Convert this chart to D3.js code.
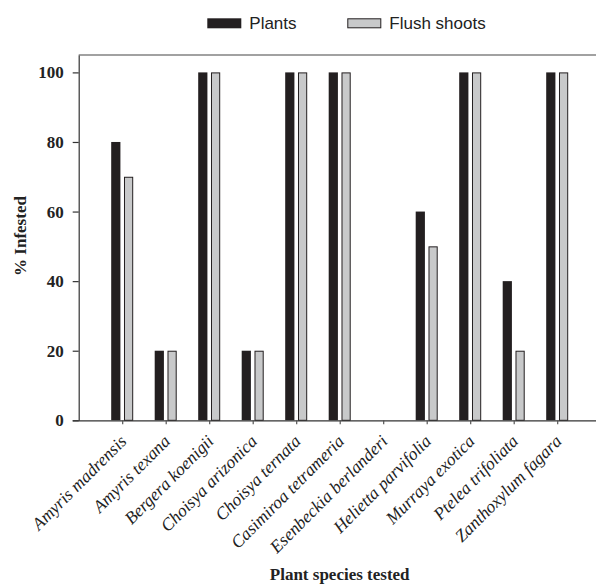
<!DOCTYPE html>
<html>
<head>
<meta charset="utf-8">
<script src="https://cdn.jsdelivr.net/npm/d3@7/dist/d3.min.js"></script>
<style>
  html, body { margin: 0; padding: 0; background: #fff; }
  svg { display: block; }
</style>
</head>
<body>
<svg id="chart" width="596" height="584"></svg>
<script>
const categories = ["Amyris madrensis", "Amyris texana", "Bergera koenigii", "Choisya arizonica",
  "Choisya ternata", "Casimiroa tetrameria", "Esenbeckia berlanderi", "Helietta parvifolia",
  "Murraya exotica", "Ptelea trifoliata", "Zanthoxylum fagara"];
const seriesNames = ["Plants", "Flush shoots"];
const plants = [80, 20, 100, 20, 100, 100, 0, 60, 100, 40, 100];
const flushShoots = [70, 20, 100, 20, 100, 100, 0, 50, 100, 20, 100];
const yTicks = [0, 20, 40, 60, 80, 100];

(function () {
const svg = d3.select("#chart");
const mLeft = 78.7, mRight = 600.7, mTop = 55, mBottom = 420.3;
const serif = "'Liberation Serif', 'Times New Roman', serif";
const sans = "'Liberation Sans', Arial, sans-serif";
const dark = "#231f20", grayFill = "#c8c9ca";

const x = d3.scalePoint().domain(categories).range([mLeft, mRight]).padding(1);
const y = d3.scaleLinear().domain([0, 105]).range([mBottom, mTop]);
const inner = d3.scaleBand().domain(seriesNames).range([-11, 11]).paddingInner(0.28);

const data = categories.map((c, i) => ({ cat: c, values: [plants[i], flushShoots[i]] }));

// frame top
svg.append("line").attr("x1", mLeft).attr("x2", 596).attr("y1", mTop).attr("y2", mTop)
  .attr("stroke", "#444").attr("stroke-width", 1.2);

// bars
const groups = svg.append("g").selectAll("g").data(data).join("g")
  .attr("transform", d => `translate(${x(d.cat)},0)`);
groups.selectAll("rect").data(d => d.values.map((v, j) => ({ v, s: seriesNames[j] })).filter(e => e.v > 0))
  .join("rect")
  .attr("x", d => inner(d.s) + (d.s === "Plants" ? 0 : 0.5))
  .attr("width", d => inner.bandwidth() - (d.s === "Plants" ? 0 : 1))
  .attr("y", d => y(d.v) + (d.s === "Plants" ? 0 : 0.5))
  .attr("height", d => mBottom - y(d.v) - (d.s === "Plants" ? 0 : 0.5))
  .attr("fill", d => d.s === "Plants" ? dark : grayFill)
  .attr("stroke", d => d.s === "Plants" ? "none" : dark)
  .attr("stroke-width", 1);

// y axis
const yAxis = svg.append("g").attr("transform", `translate(${mLeft},0)`)
  .call(d3.axisLeft(y).tickValues(yTicks).tickSize(6).tickPadding(9).tickSizeOuter(0));
yAxis.select(".domain").attr("stroke", "#333").attr("stroke-width", 1.2);
yAxis.selectAll(".tick line").attr("stroke", "#333").attr("stroke-width", 1.2);
yAxis.selectAll(".tick text").attr("font-family", serif).attr("font-weight", "bold")
  .attr("font-size", 17).attr("fill", "#222");

// x axis
const xAxis = svg.append("g").attr("transform", `translate(0,${mBottom})`)
  .call(d3.axisBottom(x).tickSize(4).tickSizeOuter(0));
xAxis.select(".domain").attr("stroke", "#333").attr("stroke-width", 1.2)
  .attr("d", `M${mLeft - 6},0.5H596`);
xAxis.selectAll(".tick line").attr("stroke", "#555").attr("stroke-width", 1.2);
xAxis.selectAll(".tick text")
  .attr("font-family", serif).attr("font-style", "italic").attr("font-size", 17.5)
  .attr("fill", "#222")
  .attr("text-anchor", "end")
  .attr("y", 0).attr("dy", 0)
  .attr("transform", "translate(5,22) rotate(-45)");

// axis titles
svg.append("text").attr("x", (mLeft + mRight) / 2).attr("y", 579.5)
  .attr("text-anchor", "middle").attr("font-family", serif).attr("font-weight", "bold")
  .attr("font-size", 17).attr("fill", "#222").text("Plant species tested");
svg.append("text").attr("transform", "translate(26,236) rotate(-90)")
  .attr("text-anchor", "middle").attr("font-family", serif).attr("font-weight", "bold")
  .attr("font-size", 17).attr("fill", "#222").text("% Infested");

// legend
const legend = svg.append("g");
const legendX = [207.3, 347.3];
seriesNames.forEach((s, i) => {
  legend.append("rect").attr("x", legendX[i] + (i ? 0.5 : 0)).attr("y", 18.3 + (i ? 0.5 : 0))
    .attr("width", 34 - (i ? 1 : 0)).attr("height", 10 - (i ? 1 : 0))
    .attr("fill", i ? grayFill : dark).attr("stroke", i ? dark : "none").attr("stroke-width", 1);
  legend.append("text").attr("x", legendX[i] + 42).attr("y", 28.5)
    .attr("font-family", sans).attr("font-size", 17).attr("fill", "#222").text(s);
});
})();
</script>
</body>
</html>
